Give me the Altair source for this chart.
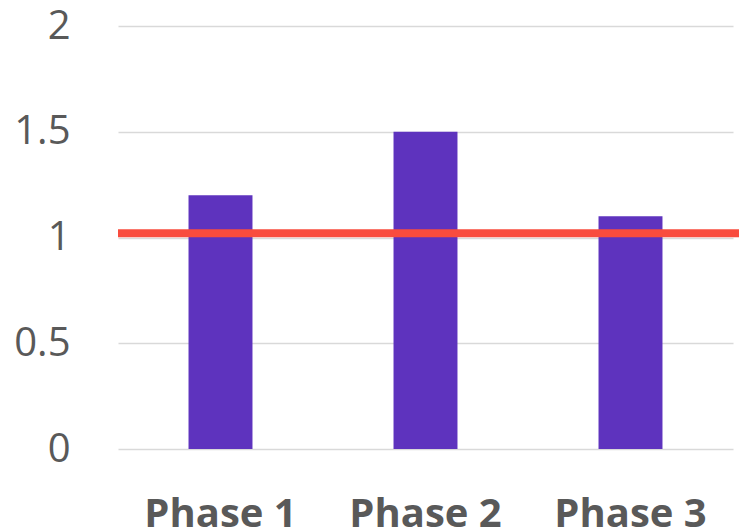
import altair as alt
import pandas as pd

phases = ["Phase 1", "Phase 2", "Phase 3"]
values = [1.2, 1.5, 1.1]
target = [1.02]

bars_df = pd.DataFrame({"phase": phases, "value": values})
line_df = pd.DataFrame({"target": target})

y_scale = alt.Scale(domain=[0, 2], nice=False)

bars = alt.Chart(bars_df).mark_bar(color="#5E33BE").encode(
    x=alt.X("phase:N", sort=phases, title=None,
            scale=alt.Scale(paddingInner=0.688, paddingOuter=0.344),
            axis=alt.Axis(labelAngle=0, labelFont="Open Sans", labelFontSize=40,
                          labelFontWeight="bold", labelColor="#595959",
                          labelPadding=45, ticks=False, domain=False, grid=False)),
    y=alt.Y("value:Q", scale=y_scale, title=None,
            axis=alt.Axis(values=[0, 0.5, 1, 1.5, 2], format="~g", labelFont="Open Sans",
                          labelFontSize=40, labelColor="#595959", labelPadding=48,
                          ticks=False, domain=False, grid=True, gridColor="#D9D9D9",
                          gridWidth=1.5)),
)

rule = alt.Chart(line_df).mark_rule(color="#F94C3E", strokeWidth=8).encode(
    y=alt.Y("target:Q", scale=y_scale),
    x=alt.value(0),
    x2=alt.value(621),
)

chart = alt.layer(bars, rule).properties(
    width=615, height=423,
    background="white",
    autosize=alt.AutoSizeParams(type="none"),
    padding={"left": 118, "top": 26, "right": 6, "bottom": 83},
).configure_view(strokeWidth=0, stroke=None)

chart.save("out.html", embed_options={"renderer": "svg", "actions": False})
